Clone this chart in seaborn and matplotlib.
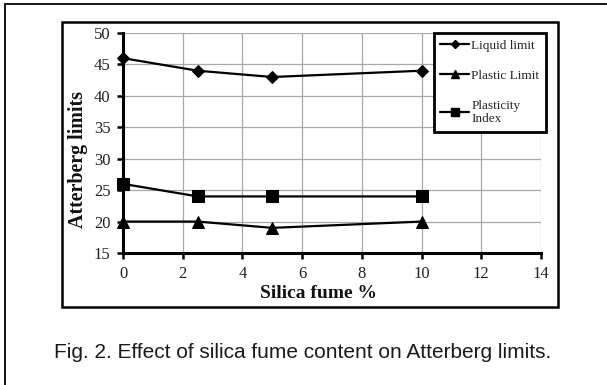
import matplotlib
matplotlib.use("Agg")
import matplotlib.pyplot as plt
from matplotlib.lines import Line2D
from matplotlib.patches import Rectangle
import seaborn as sns
import pandas as pd

# Atterberg limits versus silica fume content
silica_fume = [0, 2.5, 5, 10]
liquid_limit = [46, 44, 43, 44]
plastic_limit = [20, 20, 19, 20]
plasticity_index = [26, 24, 24, 24]

series_names = ["Liquid limit", "Plastic Limit", "Plasticity\nIndex"]
x_ticks = [0, 2, 4, 6, 8, 10, 12, 14]
y_ticks = [15, 20, 25, 30, 35, 40, 45, 50]

df = pd.concat([
    pd.DataFrame({"x": silica_fume, "y": vals, "series": name})
    for name, vals in zip(series_names, [liquid_limit, plastic_limit, plasticity_index])
], ignore_index=True)

sns.set_theme(style="whitegrid")
plt.rcParams["font.family"] = ["Liberation Serif", "DejaVu Serif"]

W, H = 607, 385
fig = plt.figure(figsize=(W / 100, H / 100), dpi=100)
fig.patch.set_facecolor("white")

def fx(px):
    return px / W

def fy(py):
    return 1 - py / H

ax = fig.add_axes([fx(123), fy(253), fx(541) - fx(123), fy(33) - fy(253)])
ax.set_facecolor("white")

markers = {series_names[0]: "D", series_names[1]: "^", series_names[2]: "s"}
msize = {series_names[0]: 6, series_names[1]: 9, series_names[2]: 9}
for name in series_names:
    sns.lineplot(data=df[df["series"] == name], x="x", y="y", ax=ax,
                 color="black", linewidth=1.6, marker=markers[name],
                 markersize=msize[name], markeredgecolor="black",
                 clip_on=False, zorder=5, legend=False)

ax.set_xlim(0, 14)
ax.set_ylim(15, 50)
ax.set_xticks(x_ticks)
ax.set_yticks(y_ticks)
ax.grid(True, color="#a8a8a8", linewidth=0.9)
for side in ["top", "right"]:
    ax.spines[side].set_visible(False)
for side in ["left", "bottom"]:
    ax.spines[side].set_visible(True)
    ax.spines[side].set_color("black")
    ax.spines[side].set_linewidth(2.2)
    ax.spines[side].set_zorder(6)
ax.tick_params(axis="both", which="major", direction="out", length=4, width=1.8,
               color="black", labelsize=12, labelcolor="#222222", pad=5,
               left=True, bottom=True)

ax.set_xlabel("Silica fume %", fontsize=14, fontweight="bold", color="#111111",
              va="center", ha="center")
ax.set_ylabel("Atterberg limits", fontsize=14.4, fontweight="bold", color="#111111",
              va="center", ha="center")
ax.xaxis.set_label_coords(0.468, -0.186)
ax.yaxis.set_label_coords(-0.108, 0.427)

handles = [Line2D([0], [0], color="black", linewidth=1.6, marker=markers[n],
                  markersize=msize[n] * 0.7, markeredgecolor="black")
           for n in series_names]
leg = fig.legend(handles, series_names, loc="upper right",
                 bbox_to_anchor=(fx(546), fy(33)), frameon=True, fancybox=False,
                 fontsize=9.5, handlelength=2.2, handletextpad=0.15,
                 labelspacing=1.35, borderpad=0.5, borderaxespad=0)
leg.get_frame().set_edgecolor("black")
leg.get_frame().set_linewidth(2.0)
leg.get_frame().set_facecolor("white")
leg.get_frame().set_alpha(1)

# inner chart frame and outer page frame
fig.add_artist(Rectangle((fx(62), fy(307)), fx(558) - fx(62), fy(22) - fy(307),
                         transform=fig.transFigure, fill=False,
                         edgecolor="black", linewidth=1.8))
fig.add_artist(Line2D([fx(5), 1.0], [fy(4), fy(4)], transform=fig.transFigure,
                      color="black", linewidth=1.3))
fig.add_artist(Line2D([fx(5), fx(5)], [0.0, fy(4)], transform=fig.transFigure,
                      color="black", linewidth=1.3))

fig.text(fx(302.5), fy(358), "Fig. 2. Effect of silica fume content on Atterberg limits.",
         ha="center", va="baseline", fontsize=15, color="#1a1a1a",
         family=["Liberation Sans", "DejaVu Sans"])

fig.savefig("out.png", dpi=100, facecolor="white")
